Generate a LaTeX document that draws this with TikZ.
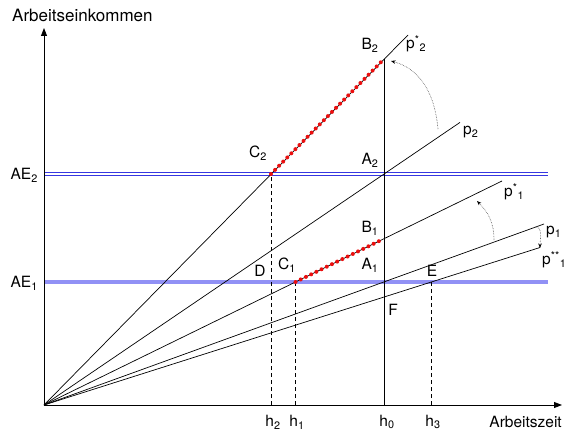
\documentclass[tikz,border=0pt]{standalone}
\usepackage{fontspec}
\setmainfont{TeX Gyre Heros}
\usetikzlibrary{arrows.meta}
\definecolor{aedark}{RGB}{55,55,225}
\definecolor{aelight}{RGB}{145,145,245}
\definecolor{dotred}{RGB}{235,15,15}
\tikzset{
  fig/.style={font=\fontsize{15.5}{18}\selectfont},
  ln/.style={line width=0.7pt},
  axisln/.style={line width=0.9pt,-{Triangle[length=8pt,width=6pt]}},
  dashln/.style={line width=0.6pt,dash pattern=on 4pt off 3pt},
  redseg/.style={line width=4pt,dotred,line cap=round,dash pattern=on 0pt off 5.8pt},
  rotarrow/.style={black!70,line width=0.6pt,densely dotted,
                   -{Stealth[length=4.5pt,width=3.5pt,black]}},
  lbl/.style={inner sep=0pt},
}
\newcommand{\pl}[2]{p\textsuperscript{#1}\textsubscript{#2}}

\begin{document}
\begin{tikzpicture}[fig,x=1pt,y=1pt]
\useasboundingbox (-44,-27) rectangle (532,405);

% ------------------------------------------------ points
\coordinate (O)    at (0,0);
\coordinate (ytip) at (0,377);
\coordinate (xtip) at (518,0);
\coordinate (B2) at (340,346);
\coordinate (A2) at (340,231);
\coordinate (C2) at (227,231);
\coordinate (B1) at (340,166.3);
\coordinate (A1) at (340,123);
\coordinate (C1) at (251.5,123);
\coordinate (E)  at (387,123);
\coordinate (F)  at (340,108);
\coordinate (h0) at (340,0);
\coordinate (h1) at (251.5,0);
\coordinate (h2) at (227,0);
\coordinate (h3) at (387,0);
% ends of the price lines
\coordinate (ps2)  at (364,370);
\coordinate (p2)   at (416,282.6);
\coordinate (ps1)  at (458,224);
\coordinate (p1)   at (500,181);
\coordinate (pss1) at (496,157.5);
% income levels
\coordinate (ae2l) at (0,231);
\coordinate (ae2r) at (504,231);
\coordinate (ae1l) at (0,123);
\coordinate (ae1r) at (504,123);

% ------------------------------------------------ income levels
\foreach \d in {-1.2,1.2}
  \draw[aedark,line width=0.8pt] ([yshift=\d pt]ae2l) -- ([yshift=\d pt]ae2r);
\draw[aelight,line width=3.5pt] (ae1l) -- (ae1r);

% ------------------------------------------------ axes
\draw[axisln] (O) -- (ytip);
\draw[axisln] (O) -- (xtip);

% ------------------------------------------------ price lines
\foreach \e in {ps2,p2,ps1,p1,pss1}
  \draw[ln] (O) -- (\e);

\draw[ln] (h0) -- (B2);
\foreach \t/\h in {C2/h2,C1/h1,E/h3}
  \draw[dashln] (\h) -- (\t);

\draw[redseg] (C2) -- (B2);
\draw[redseg] (C1) -- (B1);

% ------------------------------------------------ rotations
\coordinate (r1a) at (394,276);  \coordinate (r1b) at (347,344);
\coordinate (r2a) at (450,165);  \coordinate (r2b) at (433,204);
\coordinate (r3a) at (491,178);  \coordinate (r3b) at (496,157);
\draw[rotarrow] (r1a) to[out=95,in=-15] (r1b);
\draw[rotarrow] (r2a) to[out=90,in=-45] (r2b);
\draw[rotarrow] (r3a) to[out=0,in=90] (r3b);

% ------------------------------------------------ labels
\node[lbl,anchor=west,font=\fontsize{17}{20}\selectfont] (ylab) at (-32,390) {Arbeitseinkommen};
\node[lbl,anchor=east] (xlab) at (518,-17) {Arbeitszeit};
\node[lbl,anchor=east] (lae2) at (-6,230) {AE\textsubscript{2}};
\node[lbl,anchor=east] (lae1) at (-6,122) {AE\textsubscript{1}};

\node[lbl,anchor=west] (lps2)  at (362,361) {\pl{*}{2}};
\node[lbl,anchor=west] (lp2)   at (419,273) {p\textsubscript{2}};
\node[lbl,anchor=west] (lps1)  at (460,213) {\pl{*}{1}};
\node[lbl,anchor=west] (lp1)   at (502,173) {p\textsubscript{1}};
\node[lbl,anchor=west] (lpss1) at (498,145) {\pl{**}{1}};

\node[lbl] (lB2) at (326,360) {B\textsubscript{2}};
\node[lbl] (lA2) at (326,245) {A\textsubscript{2}};
\node[lbl] (lC2) at (214,252) {C\textsubscript{2}};
\node[lbl] (lB1) at (326,177) {B\textsubscript{1}};
\node[lbl] (lA1) at (326,140) {A\textsubscript{1}};
\node[lbl] (lC1) at (243,140) {C\textsubscript{1}};
\node[lbl] (lD)  at (216,134) {D};
\node[lbl] (lE)  at (388,134) {E};
\node[lbl] (lF)  at (349,95)  {F};

\node[lbl] (lh2) at (229,-17) {h\textsubscript{2}};
\node[lbl] (lh1) at (253,-17) {h\textsubscript{1}};
\node[lbl] (lh0) at (343,-17) {h\textsubscript{0}};
\node[lbl] (lh3) at (389,-17) {h\textsubscript{3}};

\end{tikzpicture}
\end{document}
